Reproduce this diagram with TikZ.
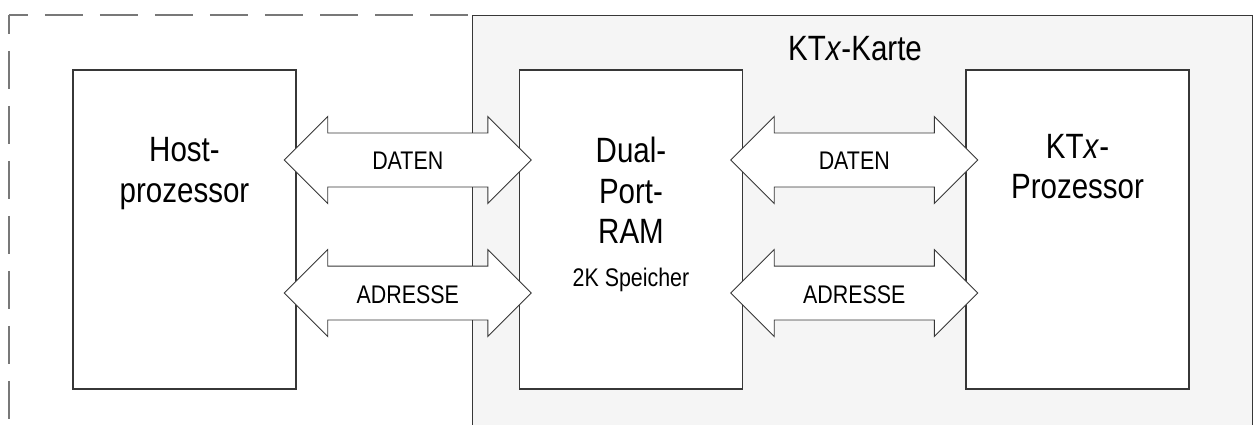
\documentclass[tikz,border=0pt]{standalone}
\usepackage{fontspec}
\setmainfont{Liberation Sans}[FakeStretch=0.84]
\definecolor{cardgray}{RGB}{245,245,245}
\definecolor{linegray}{RGB}{55,55,55}
\definecolor{dashgray}{RGB}{120,120,120}
\usetikzlibrary{shapes.arrows, calc}

\begin{document}
\begin{tikzpicture}[
          dashframe/.style={
              draw=dashgray,
              line width=0.8pt,
              dash pattern=on 0.76cm off 0.34cm,
              dash phase=0.38cm
            },
          card/.style={
              draw=linegray,
              fill=cardgray,
              line width=0.8pt,
              anchor=north west,
              minimum width=15.6cm,
              minimum height=9cm
            },
          unit/.style={
              draw=linegray,
              fill=white,
              line width=0.7pt,
              minimum width=4.46cm,
              minimum height=6.38cm
            },
          title/.style={font=\fontsize{20pt}{23.2pt}\selectfont, align=center, text=black},
          bus/.style={
              double arrow,
              double arrow tip angle=90,
              double arrow head extend=0.33cm,
              draw=linegray,
              fill=white,
              line width=0.5pt,
              minimum height=4.94cm,
              text height=0.4cm,
              text depth=0cm,
              inner xsep=0pt,
              inner ysep=0.33cm,
              font=\fontsize{14.5pt}{17pt}\selectfont,
              text=black
            }
        ]
        \useasboundingbox (0,0) rectangle (25.08,8.48);
        \clip (0,0) rectangle (25.08,8.48);

        \node[card] (card) at (9.44,8.18) {};
        \node[title] (card_txt) at (17.10,7.50) {KT\textit{x}-Karte};
        \coordinate (frame_corner) at (0.18,8.18);
        \coordinate (frame_end) at (0.18,-0.5);
        \draw[dashframe] (frame_corner) -- (card.north west);
        \draw[dashframe] (frame_corner) -- (frame_end);

        \node[unit] (host) at (3.69,3.89) {};
        \node[unit] (dpram) at (12.62,3.89) {};
        \node[unit] (ktx) at (21.55,3.89) {};

        \node[title] (host_txt) at (3.69,5.01) {Host-\\prozessor};
        \node[title] (dpram_txt) at (12.62,4.19) {Dual-\\Port-\\RAM\\[0.04cm]{\fontsize{14.5pt}{17pt}\selectfont 2K Speicher}};
        \node[title] (ktx_txt) at (21.55,5.15) {KT\textit{x}-\\Prozessor};

        \node[bus] (daten_l) at ($(host.east)!0.5!(dpram.west) + (0,1.39)$) {DATEN};
        \node[bus] (adresse_l) at ($(host.east)!0.5!(dpram.west) + (0,-1.27)$) {ADRESSE};
        \node[bus] (daten_r) at ($(dpram.east)!0.5!(ktx.west) + (0,1.39)$) {DATEN};
        \node[bus] (adresse_r) at ($(dpram.east)!0.5!(ktx.west) + (0,-1.27)$) {ADRESSE};
      \end{tikzpicture}
\end{document}
